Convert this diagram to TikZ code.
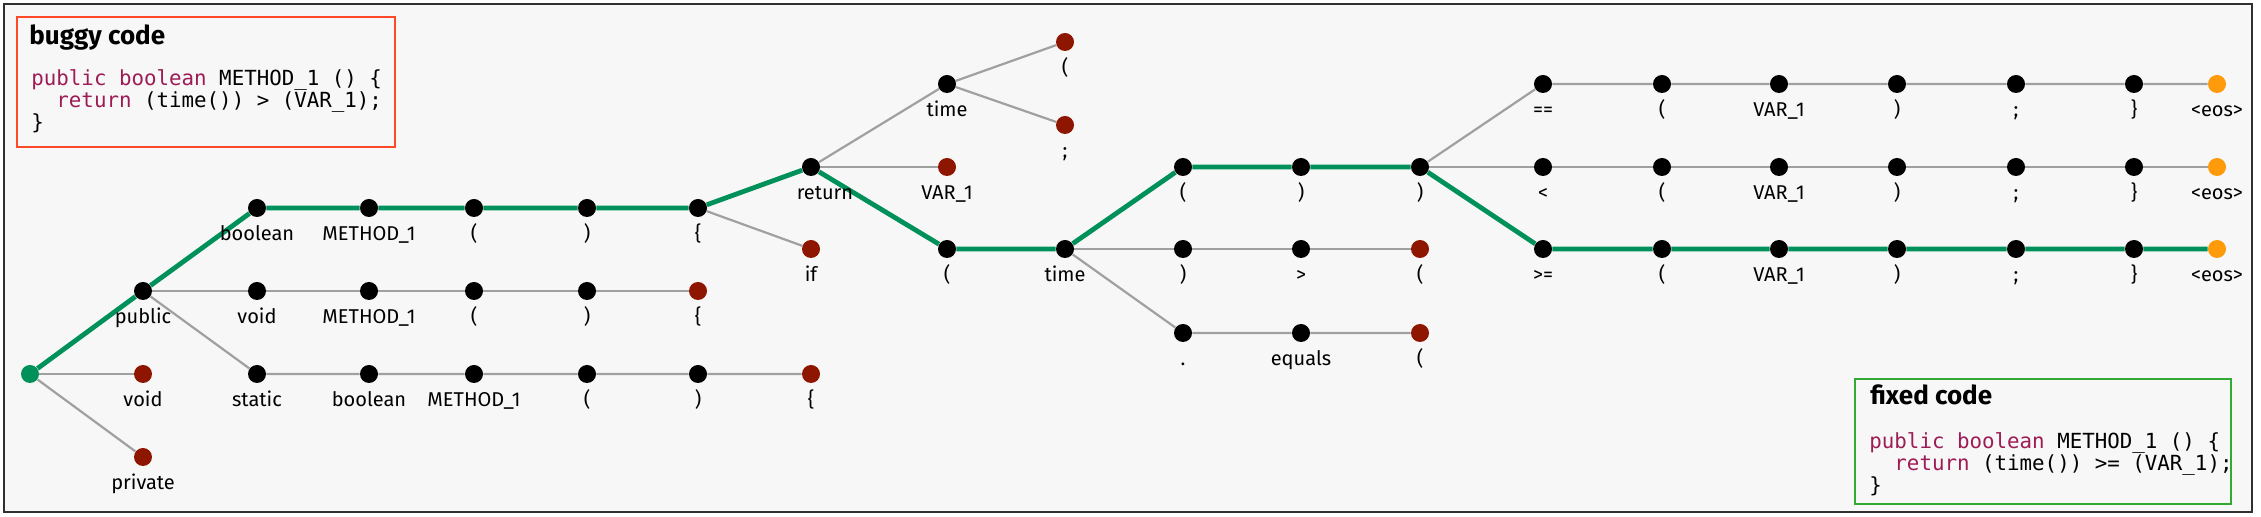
\documentclass[tikz,border=0pt]{standalone}
\usepackage{fontspec}
\setmainfont{Fira Sans}
\setmonofont{DejaVu Sans Mono}
\usepackage{tikz}
\usetikzlibrary{positioning,calc,backgrounds}
\definecolor{cPath}{HTML}{00905A}
\definecolor{cEdge}{HTML}{A0A0A0}
\definecolor{cDead}{HTML}{8E1500}
\definecolor{cEos}{HTML}{FF9A0A}
\definecolor{cBug}{HTML}{FF4A2A}
\definecolor{cFix}{HTML}{33AA33}
\definecolor{cKey}{HTML}{9E1C55}
\definecolor{cBg}{HTML}{F7F7F7}
\definecolor{cFrame}{HTML}{303030}
\tikzset{
  tok/.style={circle, fill=black, inner sep=0pt, minimum size=9pt},
  deadtok/.style={tok, fill=cDead},
  eostok/.style={tok, fill=cEos},
  roottok/.style={tok, fill=cPath},
  lbl/.style={font=\fontsize{10}{12}\selectfont, text height=7pt,
              text depth=2pt, inner sep=0pt},
  every label/.style={lbl},
  edge/.style={cEdge, line width=1.1pt},
  pathedge/.style={cPath, line width=2.4pt},
  codebox/.style={draw, line width=1pt, fill=cBg, inner sep=0pt, anchor=north west},
  ttl/.style={font=\bfseries\fontsize{13}{15}\selectfont, inner sep=0pt, anchor=base west},
  code/.style={font=\ttfamily\fontsize{10.4}{11}\selectfont, inner sep=0pt, anchor=base west}
}
\newcommand{\kw}[1]{\textcolor{cKey}{#1}}

\begin{document}
\begin{tikzpicture}[x=0.5pt, y=0.5pt, label distance=4.5pt]
\useasboundingbox (0,0) rectangle (2261,-517);
% code boxes
\node[codebox, draw=cBug, minimum width=189pt, minimum height=65pt] (buggy) at (16,-16) {};
\node[ttl] (buggyttl) at (29,-45) {buggy code};
\node[code] (bug1) at (31,-86) {\kw{public boolean} METHOD\_1 () \{};
\node[code] (bug2) at (31,-108) {\hphantom{xx}\kw{return} (time()) > (VAR\_1);};
\node[code] (bug3) at (31,-130) {\}};
\node[codebox, draw=cFix, minimum width=188pt, minimum height=62.5pt] (fixed) at (1854,-378) {};
\node[ttl] (fixedttl) at (1870,-405) {fixed code};
\node[code] (fix1) at (1869,-449) {\kw{public boolean} METHOD\_1 () \{};
\node[code] (fix2) at (1869,-471) {\hphantom{xx}\kw{return} (time()) >= (VAR\_1);};
\node[code] (fix3) at (1869,-493) {\}};
% method header
\node[roottok] (root) at (30,-374) {};
\node[tok, label={below:public}] (pub) at (143,-291) {};
\node[deadtok, label={below:void}] (void0) at (143,-374) {};
\node[deadtok, label={below:private}] (priv) at (143,-457) {};
\node[tok, label={below:boolean}] (bool) at (257,-208) {};
\node[tok, label={below:METHOD\_1}] (mth) at (369,-208) {};
\node[tok, label={below:(}] (lp) at (474,-208) {};
\node[tok, label={below:)}] (rp) at (587,-208) {};
\node[tok, label={below:\{}] (lb) at (698,-208) {};
\node[tok, label={below:void}] (vd) at (257,-291) {};
\node[tok, label={below:METHOD\_1}] (vmth) at (369,-291) {};
\node[tok, label={below:(}] (vlp) at (474,-291) {};
\node[tok, label={below:)}] (vrp) at (587,-291) {};
\node[deadtok, label={below:\{}] (vlb) at (698,-291) {};
\node[tok, label={below:static}] (st) at (257,-374) {};
\node[tok, label={below:boolean}] (sbool) at (369,-374) {};
\node[tok, label={below:METHOD\_1}] (smth) at (474,-374) {};
\node[tok, label={below:(}] (slp) at (587,-374) {};
\node[tok, label={below:)}] (srp) at (698,-374) {};
\node[deadtok, label={below:\{}] (slb) at (811,-374) {};
% body
\node[tok, label={[xshift=7pt]below:return}] (ret) at (811,-167) {};
\node[deadtok, label={below:if}] (ifk) at (811,-249) {};
\node[tok, label={below:time}] (tim1) at (947,-84) {};
\node[deadtok, label={below:VAR\_1}] (var) at (947,-167) {};
\node[tok, label={below:(}] (plp) at (947,-249) {};
\node[deadtok, label={below:(}] (tlp) at (1065,-42) {};
\node[deadtok, label={below:;}] (tsc) at (1065,-125) {};
\node[tok, label={below:time}] (tim2) at (1065,-249) {};
\node[tok, label={below:(}] (alp) at (1183,-167) {};
\node[tok, label={below:)}] (arp) at (1183,-249) {};
\node[tok, label={below:.}] (dot) at (1183,-333) {};
\node[tok, label={below:)}] (arp2) at (1301,-167) {};
\node[tok, label={below:>}] (gt) at (1301,-249) {};
\node[tok, label={below:equals}] (eq) at (1301,-333) {};
\node[tok, label={below:)}] (arp3) at (1420,-167) {};
\node[deadtok, label={below:(}] (glp) at (1420,-249) {};
\node[deadtok, label={below:(}] (elp) at (1420,-333) {};
% comparison rows
\foreach \r/\y/\op in {eqq/84/==, lt/167/<, ge/249/>=} {
  \node[tok, label={below:\op}] (\r0) at (1543,-\y) {};
  \node[tok, label={below:(}] (\r1) at (1662,-\y) {};
  \node[tok, label={below:VAR\_1}] (\r2) at (1779,-\y) {};
  \node[tok, label={below:)}] (\r3) at (1897,-\y) {};
  \node[tok, label={below:;}] (\r4) at (2016,-\y) {};
  \node[tok, label={below:\}}] (\r5) at (2134,-\y) {};
  \node[eostok, label={below:<eos>}] (\r6) at (2217,-\y) {};
}
\begin{scope}[on background layer]
\draw[cFrame, line width=1.2pt, fill=cBg] (4,-4) rectangle (2252,-512);
\draw[edge] (root) -- (void0); \draw[edge] (root) -- (priv);
\draw[edge] (pub) -- (vd) -- (vmth) -- (vlp) -- (vrp) -- (vlb);
\draw[edge] (pub) -- (st) -- (sbool) -- (smth) -- (slp) -- (srp) -- (slb);
\draw[edge] (lb) -- (ifk);
\draw[edge] (ret) -- (tim1); \draw[edge] (ret) -- (var);
\draw[edge] (tim1) -- (tlp); \draw[edge] (tim1) -- (tsc);
\draw[edge] (tim2) -- (arp) -- (gt) -- (glp);
\draw[edge] (tim2) -- (dot) -- (eq) -- (elp);
\draw[edge] (arp3) -- (eqq0) -- (eqq1) -- (eqq2) -- (eqq3) -- (eqq4) -- (eqq5) -- (eqq6);
\draw[edge] (arp3) -- (lt0) -- (lt1) -- (lt2) -- (lt3) -- (lt4) -- (lt5) -- (lt6);
% decoding path of the fix
\draw[pathedge] (root) -- (pub) -- (bool) -- (mth) -- (lp) -- (rp) -- (lb) -- (ret)
  -- (plp) -- (tim2) -- (alp) -- (arp2) -- (arp3) -- (ge0) -- (ge1) -- (ge2) -- (ge3)
  -- (ge4) -- (ge5) -- (ge6);
\end{scope}
\end{tikzpicture}
\end{document}
